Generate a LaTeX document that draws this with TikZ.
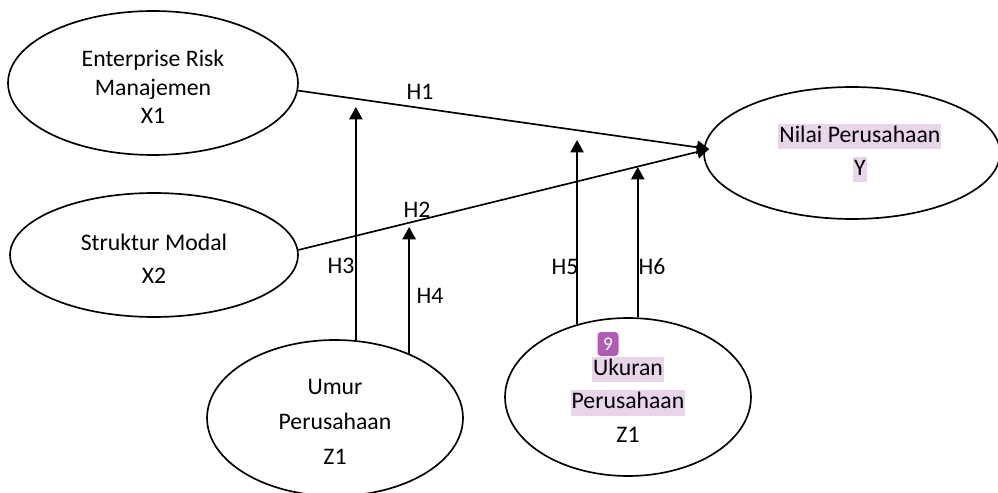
\documentclass[tikz,border=0pt]{standalone}
\usepackage{fontspec}
\setmainfont{Carlito}
\usetikzlibrary{calc,shapes.geometric,arrows.meta}
\definecolor{hlpurple}{HTML}{E8D5EA}
\definecolor{badgepurple}{HTML}{B05CB5}
\newcommand{\marked}[1]{{\setlength{\fboxsep}{0.6pt}\colorbox{hlpurple}{\rule[-0.25em]{0pt}{1em}#1}}}
\newcommand{\topgap}[1]{\rule{0pt}{#1}}

\begin{document}
\begin{tikzpicture}[
    x=0.02cm,y=-0.02cm,
    construct/.style={ellipse,draw,line width=0.95pt,inner sep=0pt,align=center,font=\fontsize{13.5}{19}\selectfont},
    hypothesis/.style={-{Triangle[length=7pt,width=7.5pt]},line width=0.95pt},
    hypothesis label/.style={inner sep=0pt,font=\fontsize{13.5}{16}\selectfont},
    comment badge/.style={fill=badgepurple,rounded corners=2pt,text=white,inner sep=0pt,minimum width=0.42cm,minimum height=0.48cm,font=\fontsize{11}{12}\selectfont},
  ]
  \useasboundingbox (0,0) rectangle (998,493);

  \node[construct,minimum width=5.8cm,minimum height=2.88cm,font=\fontsize{13.5}{16.2}\selectfont] (var-x1) at (153,83) {\topgap{14pt}Enterprise Risk\\Manajemen\\X1};
  \node[construct,minimum width=5.76cm,minimum height=2.48cm] (var-x2) at (154,255) {\topgap{14pt}Struktur Modal\\X2};
  \node[construct,minimum width=5.92cm,minimum height=2.64cm,font=\fontsize{13.5}{18.7}\selectfont] (var-y) at (852,153) {\hspace*{9pt}\marked{Nilai Perusahaan}\\\hspace*{9pt}\marked{Y}};
  \node[construct,minimum width=5.12cm,minimum height=3.12cm,font=\fontsize{13.5}{19.8}\selectfont] (var-umur) at (335,418) {\topgap{13.3pt}Umur\\Perusahaan\\Z1};
  \node[construct,minimum width=4.92cm,minimum height=3.16cm] (var-ukuran) at (628,397) {\topgap{13.5pt}\marked{Ukuran}\\\marked{Perusahaan}\\Z1};
  \node[comment badge] (badge-9) at (608,344) {9};

  \coordinate (h-tip) at ($ (var-y.west) + (6,-4) $);
  \draw[hypothesis] (var-x1.-3) -- (h-tip);
  \draw[hypothesis] (var-x2.2) -- (h-tip);

  \coordinate (h3-tip) at (355,107);
  \coordinate (h4-tip) at (408,227);
  \coordinate (h5-tip) at (576,140);
  \coordinate (h6-tip) at (637,167);
  \draw[hypothesis] (var-umur.75) -- (var-umur.75 |- h3-tip);
  \draw[hypothesis] (var-umur.41) -- (var-umur.41 |- h4-tip);
  \draw[hypothesis] (var-ukuran.125.6) -- (var-ukuran.125.6 |- h5-tip);
  \draw[hypothesis] (var-ukuran.83) -- (var-ukuran.83 |- h6-tip);

  \node[hypothesis label] (hyp-h1) at (420,92) {H1};
  \node[hypothesis label] (hyp-h2) at (417,210) {H2};
  \node[hypothesis label] (hyp-h3) at (341,266) {H3};
  \node[hypothesis label] (hyp-h4) at (430,296) {H4};
  \node[hypothesis label] (hyp-h5) at (565,267) {H5};
  \node[hypothesis label] (hyp-h6) at (652,267) {H6};

\end{tikzpicture}
\end{document}
